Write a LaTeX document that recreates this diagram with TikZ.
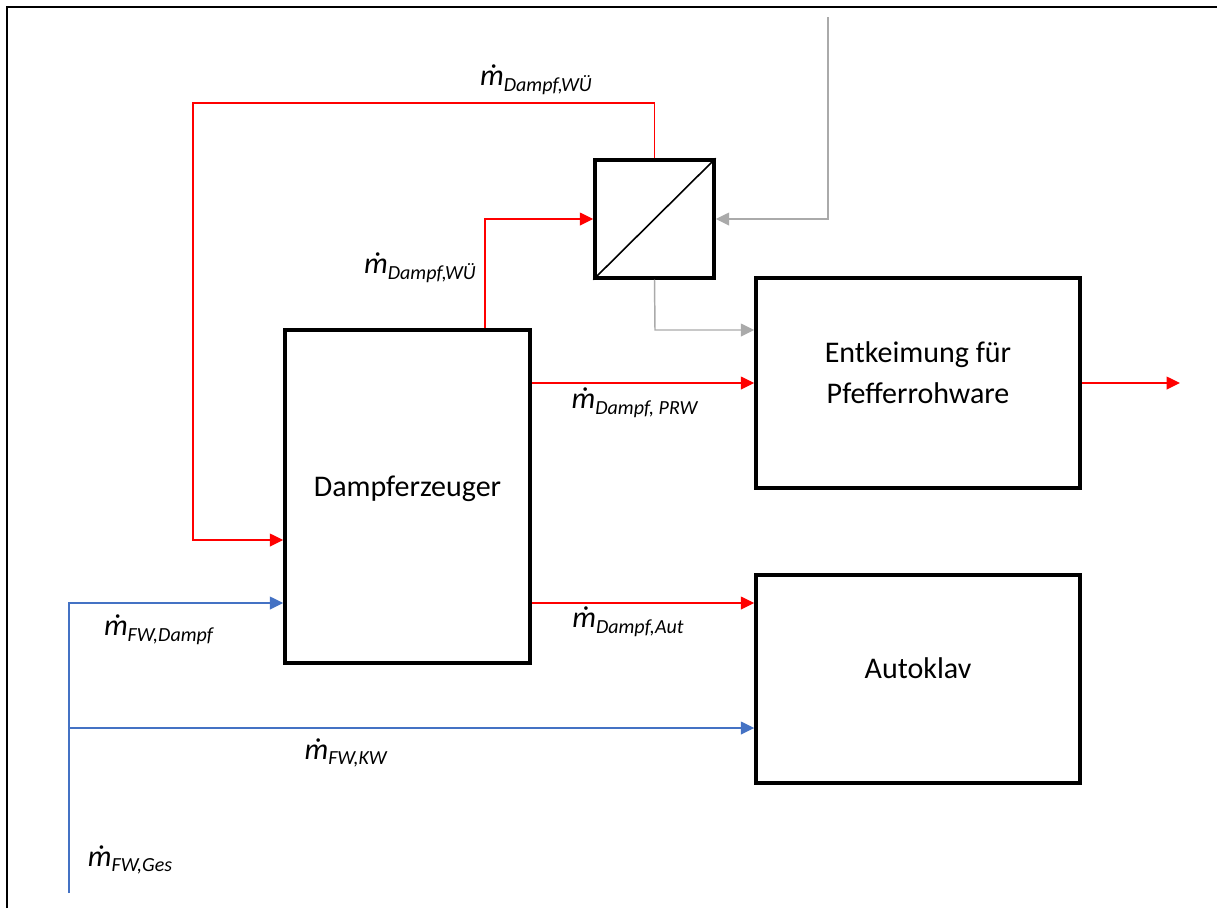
\documentclass[tikz,border=0pt]{standalone}
\usepackage{fontspec}
\setmainfont{Carlito}
\usetikzlibrary{arrows.meta}
\definecolor{fwblue}{RGB}{68,114,196}
\definecolor{kwgray}{RGB}{170,170,170}
\newcommand{\mflow}[1]{\textit{ṁ}\raisebox{-0.4ex}{\fontsize{15}{15}\selectfont\textit{#1}}}

\begin{document}
\begin{tikzpicture}[x=0.75pt, y=-0.75pt,
    block/.style={draw, line width=2.6pt, inner sep=0pt, align=center, text depth=16pt, font=\fontsize{22.5}{30.75}\selectfont},
    steam/.style={red, line width=1.1pt},
    water/.style={fwblue, line width=1.1pt},
    cool/.style={kwgray, line width=1.1pt},
    tip/.style={-{Triangle[length=10pt,width=9.5pt]}},
    flowlabel/.style={inner sep=0pt, font=\fontsize{22.5}{27}\selectfont}]
    \useasboundingbox (0,0) rectangle (1217,908);
    \draw[line width=2pt] (7,908) -- (7,7) -- (1217,7);

    \node[block, minimum width=183.75pt, minimum height=249.75pt] (de) at (407.5,496.5) {Dampferzeuger};
    \node[block, minimum width=89.25pt, minimum height=88.5pt] (hx) at (654.5,219) {};
    \draw[line width=1.2pt] (hx.south west) -- (hx.north east);
    \node[block, minimum width=243pt, minimum height=157.5pt] (ek) at (918,383) {Entkeimung für\\Pfefferrohware};
    \node[block, minimum width=243pt, minimum height=156pt] (ak) at (918,679) {Autoklav};

    \coordinate (loopTop) at (193,103);
    \coordinate (loopBot) at (193,540);
    \coordinate (deTop) at (485,216);
    \coordinate (out) at (1180,383);
    \coordinate (kwIn) at (828,17);
    \coordinate (hxKnee) at (655,330);
    \coordinate (fwBot) at (69,893);
    \coordinate (fwTop) at (69,603);
    \coordinate (fwMid) at (69,728);

    % Dampf
    \draw[steam, tip] (hx.north) |- (loopTop) -- (loopBot) -- (loopBot -| de.west);
    \draw[steam, tip] (de.north -| deTop) |- (hx.west);
    \draw[steam, tip] (de.east |- ek.west) -- (ek.west);
    \draw[steam, tip] (ek.east) -- (out);
    \draw[steam, tip] (de.east |- fwTop) -- (ak.west |- fwTop);

    % Kuehlwasser
    \draw[cool, tip] (kwIn) |- (hx.east);
    \draw[cool, tip] (hx.south) -- (hxKnee) -- (hxKnee -| ek.west);

    % Frischwasser
    \draw[water, tip] (fwBot) -- (fwTop) -- (fwTop -| de.west);
    \draw[water, tip] (fwMid) -- (fwMid -| ak.west);

    \node[flowlabel] (lWU1) at (536,80) {\mflow{Dampf,WÜ}};
    \node[flowlabel] (lWU2) at (420,268) {\mflow{Dampf,WÜ}};
    \node[flowlabel] (lPRW) at (635,403) {\mflow{Dampf, PRW}};
    \node[flowlabel] (lAut) at (628,622) {\mflow{Dampf,Aut}};
    \node[flowlabel] (lFWD) at (159,630) {\mflow{FW,Dampf}};
    \node[flowlabel] (lFWK) at (346,753) {\mflow{FW,KW}};
    \node[flowlabel] (lFWG) at (130,860) {\mflow{FW,Ges}};
\end{tikzpicture}
\end{document}
